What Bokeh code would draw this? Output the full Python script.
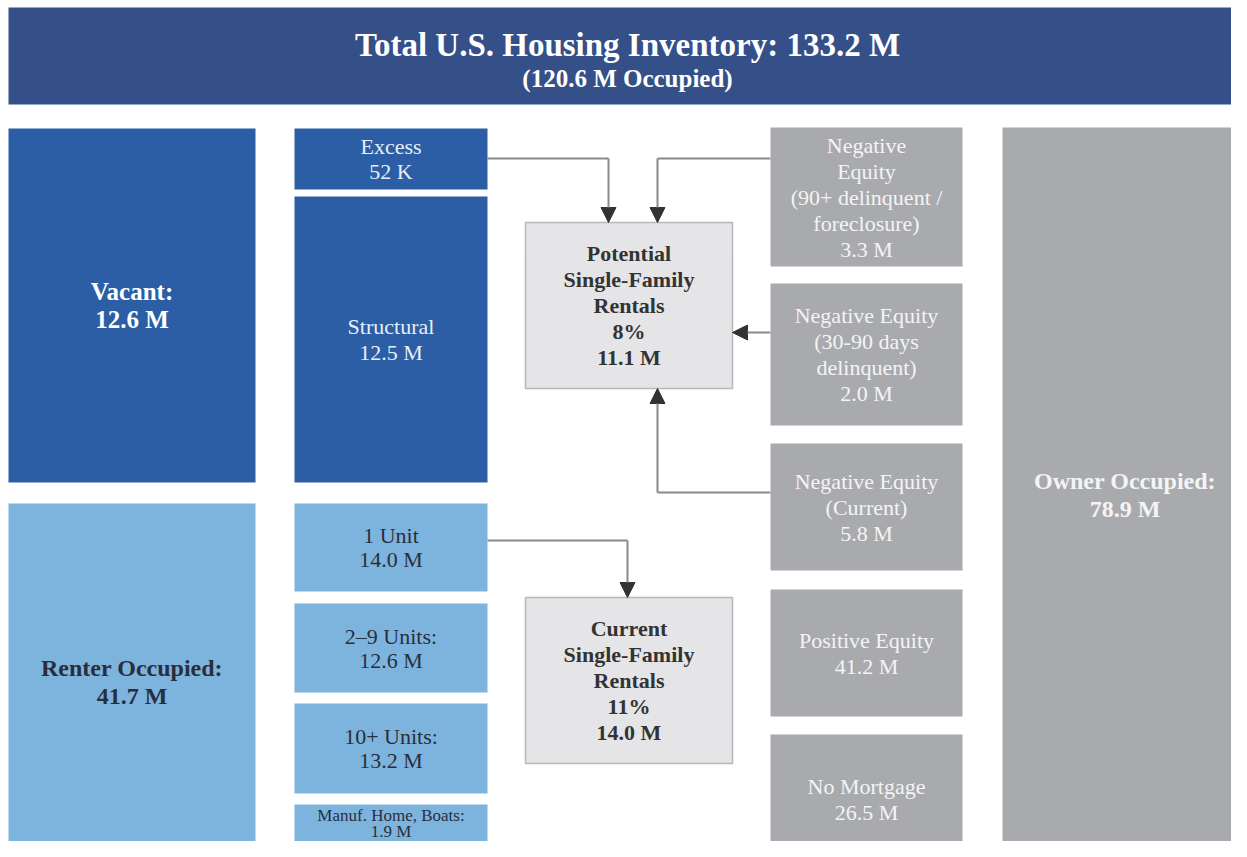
from bokeh.plotting import figure
from bokeh.models import Range1d, Arrow, NormalHead
from bokeh.core.properties import value
from bokeh.embed import file_html
from bokeh.resources import INLINE

# ---- data ----
title_text = "Total U.S. Housing Inventory: 133.2 M"
subtitle_text = "(120.6 M Occupied)"

top_names = ["Vacant:", "Renter Occupied:", "Owner Occupied:"]
top_values = ["12.6 M", "41.7 M", "78.9 M"]

vacant_names = ["Excess", "Structural"]
vacant_values = ["52 K", "12.5 M"]

renter_names = ["1 Unit", "2\u20139 Units:", "10+ Units:", "Manuf. Home, Boats:"]
renter_values = ["14.0 M", "12.6 M", "13.2 M", "1.9 M"]

owner_names = ["Negative\nEquity\n(90+ delinquent /\nforeclosure)",
               "Negative Equity\n(30-90 days\ndelinquent)",
               "Negative Equity\n(Current)",
               "Positive Equity",
               "No Mortgage"]
owner_values = ["3.3 M", "2.0 M", "5.8 M", "41.2 M", "26.5 M"]

sfr_names = ["Potential\nSingle-Family\nRentals", "Current\nSingle-Family\nRentals"]
sfr_shares = ["8%", "11%"]
sfr_values = ["11.1 M", "14.0 M"]

# ---- layout (page pixels: left, right, top, bottom) ----
L_BANNER = (8, 1247, 7, 104)
L_TOP = [(8, 255, 128, 482), (8, 255, 503, 860), (1002, 1247, 127, 860)]
L_VAC = [(294, 487, 128, 189), (294, 487, 196, 482)]
L_REN = [(294, 487, 503, 591), (294, 487, 603, 692), (294, 487, 703, 793), (294, 487, 804, 860)]
L_OWN = [(770, 962, 127, 266), (770, 962, 283, 425), (770, 962, 443, 570),
         (770, 962, 589, 716), (770, 962, 734, 860)]
L_SFR = [(525, 732, 222, 388), (525, 732, 597, 763)]
ARROWS = [
    [(487, 158), (608, 158), (608, 222)],
    [(770, 158), (657, 158), (657, 222)],
    [(770, 332), (732, 332)],
    [(770, 492), (657, 492), (657, 388)],
    [(487, 540), (627, 540), (627, 597)],
]
# text centres of boxes that run off the bottom edge
TEXT_CY = {"renter": 681, "owner": 494, "manuf": 823, "nomort": 799}

NAVY = "#354f89"
BLUE = "#2b5ea5"
LBLUE = "#7db4de"
GRAY = "#a9aaae"
LGRAY = "#e5e5e7"
FONT = value("Liberation Serif")

W, H = 1231, 841
p = figure(width=W, height=H, x_range=Range1d(0, W), y_range=Range1d(H, 0),
           output_backend="svg", toolbar_location=None, min_border=0)
p.axis.visible = False
p.grid.visible = False
p.outline_line_color = None
p.background_fill_color = "white"
p.border_fill_color = "white"


def boxes(layout, color, line_color=None):
    p.quad(left=[b[0] for b in layout], right=[b[1] for b in layout],
           top=[b[2] for b in layout], bottom=[b[3] for b in layout],
           fill_color=color, line_color=line_color, line_width=1.5 if line_color else 0)


def label(box, lines, size, color, bold=False, lh=25.5, cy=None):
    cx = (box[0] + box[1]) / 2
    if cy is None:
        cy = (box[2] + box[3]) / 2
    n = len(lines)
    ys = [cy + (i - (n - 1) / 2) * lh for i in range(n)]
    p.text(x=[cx] * n, y=ys, text=lines, text_font=FONT, text_font_size=f"{size}px",
           text_color=color, text_align="center", text_baseline="middle",
           text_font_style="bold" if bold else "normal")


# banner
boxes([L_BANNER], NAVY)
p.text(x=[627], y=[44], text=[title_text], text_font=FONT, text_font_size="33px",
       text_color="white", text_align="center", text_baseline="middle", text_font_style="bold")
p.text(x=[627], y=[78], text=[subtitle_text], text_font=FONT, text_font_size="25px",
       text_color="white", text_align="center", text_baseline="middle", text_font_style="bold")

# boxes
boxes([L_TOP[0]] + L_VAC, BLUE)
boxes([L_TOP[1]] + L_REN, LBLUE)
boxes([L_TOP[2]] + L_OWN, GRAY)
boxes(L_SFR, LGRAY, "#b8b8ba")

# arrows
for path in ARROWS:
    if len(path) > 2:
        p.line(x=[pt[0] for pt in path[:-1]], y=[pt[1] for pt in path[:-1]],
               line_color="#8a8a8c", line_width=2)
    (x0, y0), (x1, y1) = path[-2], path[-1]
    p.add_layout(Arrow(x_start=x0, y_start=y0, x_end=x1, y_end=y1,
                       line_color="#8a8a8c", line_width=2,
                       end=NormalHead(size=15, fill_color="#333333", line_color="#333333")))

# labels
label(L_TOP[0], [top_names[0], top_values[0]], 25, "white", bold=True, lh=28)
label(L_TOP[1], [top_names[1], top_values[1]], 24, "#2a2e3a", bold=True, lh=28,
      cy=TEXT_CY["renter"])
label(L_TOP[2], [top_names[2], top_values[2]], 24, "#f4f4f4", bold=True, lh=28,
      cy=TEXT_CY["owner"])

for b, n, v in zip(L_VAC, vacant_names, vacant_values):
    label(b, n.split("\n") + [v], 22, "#e8eef8")
for i, (b, n, v) in enumerate(zip(L_REN, renter_names, renter_values)):
    if i == 3:
        label(b, [n, v], 17, "#2a2e3a", lh=16, cy=TEXT_CY["manuf"])
    else:
        label(b, [n, v], 22, "#2a2e3a", lh=24)
for i, (b, n, v) in enumerate(zip(L_OWN, owner_names, owner_values)):
    label(b, n.split("\n") + [v], 22, "#f4f4f4", lh=26,
          cy=TEXT_CY["nomort"] if i == 4 else None)
for b, n, s, v in zip(L_SFR, sfr_names, sfr_shares, sfr_values):
    label(b, n.split("\n") + [s, v], 22, "#333333", bold=True, lh=26)

open("out.html", "w").write(file_html(p, INLINE))
